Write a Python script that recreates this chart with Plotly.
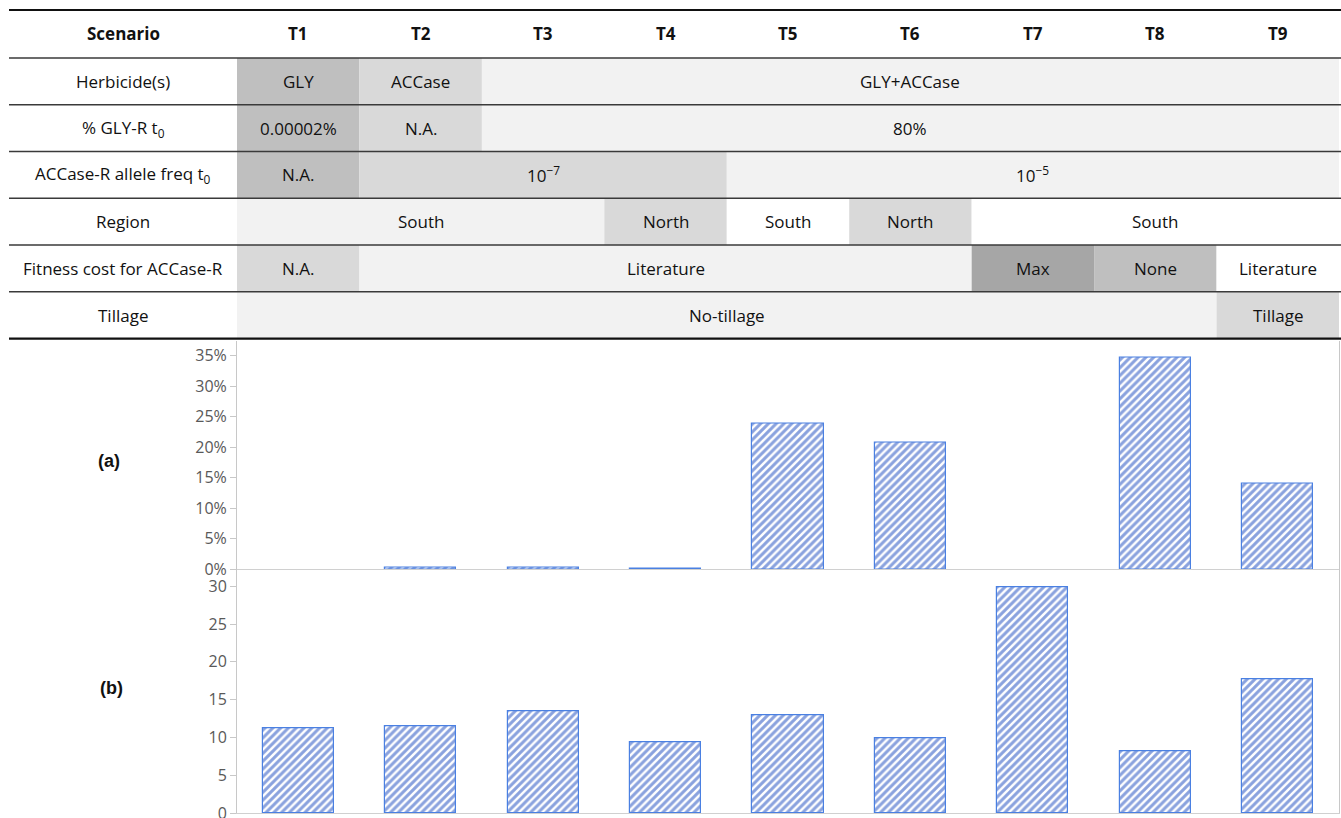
import plotly.graph_objects as go

W = 1341
REF_H = 818          # layout grid used for all vertical positions
FIG_H = 828          # rendered figure height

# ---- data -------------------------------------------------------------
scenarios = ["T1", "T2", "T3", "T4", "T5", "T6", "T7", "T8", "T9"]
panel_a_share = [None, 0.003, 0.003, 0.002, 0.238, 0.208, None, 0.346, 0.141]
panel_b_value = [11.2, 11.5, 13.5, 9.3, 12.9, 9.9, 29.9, 8.1, 17.7]

panel_a_ticks = [0, 0.05, 0.10, 0.15, 0.20, 0.25, 0.30, 0.35]
panel_b_ticks = [0, 5, 10, 15, 20, 25, 30]

row_labels = [
    "Herbicide(s)",
    "% GLY-R t<sub>0</sub>",
    "ACCase-R allele freq t<sub>0</sub>",
    "Region",
    "Fitness cost for ACCase-R",
    "Tillage",
]

# each row: (cell text, number of scenario columns spanned, fill)
table_rows = [
    [("GLY", 1, "#bfbfbf"), ("ACCase", 1, "#d9d9d9"), ("GLY+ACCase", 7, "#f2f2f2")],
    [("0.00002%", 1, "#bfbfbf"), ("N.A.", 1, "#d9d9d9"), ("80%", 7, "#f2f2f2")],
    [("N.A.", 1, "#bfbfbf"), ("10<sup>\u22127</sup>", 3, "#d9d9d9"),
     ("10<sup>\u22125</sup>", 5, "#f2f2f2")],
    [("South", 3, "#f2f2f2"), ("North", 1, "#d9d9d9"), ("South", 1, "#ffffff"),
     ("North", 1, "#d9d9d9"), ("South", 3, "#ffffff")],
    [("N.A.", 1, "#d9d9d9"), ("Literature", 5, "#f2f2f2"), ("Max", 1, "#a6a6a6"),
     ("None", 1, "#bfbfbf"), ("Literature", 1, "#ffffff")],
    [("No-tillage", 8, "#f2f2f2"), ("Tillage", 1, "#d9d9d9")],
]


# ---- position helpers (pixel grid -> paper fraction) ------------------
def px(x):
    return x / W


def py(y):
    return min(1.0, max(0.0, 1 - y / REF_H))


table_left = 9
label_right = 237
plot_right = 1339
col_w = (plot_right - label_right) / len(scenarios)
header_top = 10
header_bottom = 58
table_bottom = 339
row_h = (table_bottom - header_bottom) / len(row_labels)

a_top, a_bottom = 341, 570
a_ppu = (a_bottom - 356) / 0.35          # grid px per unit (fraction)
b_top, b_bottom = 570, 814
b_ppu = (b_bottom - 587) / 30.0

TABLE_FONT = "'Open Sans', sans-serif"
AXIS_FONT = "'Open Sans', sans-serif"
TAG_FONT = "'Liberation Sans', Arial, sans-serif"
BLUE = "#1646bd"
EDGE = "#4a80e2"

shapes = []
annotations = []


def label(x, y, text, size=17, family=TABLE_FONT):
    annotations.append(dict(x=px(x), y=py(y), xref="paper", yref="paper", text=text,
                            showarrow=False, xanchor="center", yanchor="middle",
                            font=dict(family=family, size=size, color="#111")))


# header
hy = (header_top + header_bottom) / 2
label((table_left + label_right) / 2, hy, "<b>Scenario</b>")
for i, s in enumerate(scenarios):
    label(label_right + (i + 0.5) * col_w, hy, f"<b>{s}</b>")

# body rows
for r, (row_name, cells) in enumerate(zip(row_labels, table_rows)):
    y0 = header_bottom + r * row_h
    y1 = y0 + row_h
    ym = (y0 + y1) / 2
    label((table_left + label_right) / 2, ym, row_name)
    c = 0
    for text, span, fill in cells:
        x0 = label_right + c * col_w
        x1 = x0 + span * col_w
        shapes.append(dict(type="rect", xref="paper", yref="paper", x0=px(x0), x1=px(x1),
                           y0=py(y1), y1=py(y0), fillcolor=fill, line=dict(width=0), layer="below"))
        label((x0 + x1) / 2, ym, text)
        c += span

# horizontal rules
for k in range(len(row_labels)):
    yy = header_bottom + k * row_h
    shapes.append(dict(type="line", xref="paper", yref="paper", x0=px(table_left), x1=1,
                       y0=py(yy), y1=py(yy), line=dict(color="#3a3a3a", width=1.4)))
for yy, wdt in [(header_top, 2.2), (table_bottom, 2.4)]:
    shapes.append(dict(type="line", xref="paper", yref="paper", x0=px(table_left), x1=1,
                       y0=py(yy), y1=py(yy), line=dict(color="#111", width=wdt)))

# panel tags
label(109, 462, "<b>(a)</b>", size=18, family=TAG_FONT)
label(111, 689, "<b>(b)</b>", size=18, family=TAG_FONT)

bar_style = dict(
    color="white",
    line=dict(color=EDGE, width=1.2),
    pattern=dict(shape="/", fgcolor=BLUE, bgcolor="white", size=5.5, solidity=0.55),
)

fig = go.Figure()
fig.add_trace(go.Bar(x=scenarios, y=panel_a_share, width=0.58, marker=bar_style,
                     xaxis="x", yaxis="y", showlegend=False, hoverinfo="x+y"))
fig.add_trace(go.Bar(x=scenarios, y=panel_b_value, width=0.58, marker=bar_style,
                     xaxis="x2", yaxis="y2", showlegend=False, hoverinfo="x+y"))

a_max = (a_bottom - a_top) / a_ppu
b_max = (b_bottom - b_top) / b_ppu

common_x = dict(type="category", categoryorder="array", categoryarray=scenarios,
                range=[-0.5, len(scenarios) - 0.5], showticklabels=False, ticks="",
                showgrid=False, zeroline=False, showline=True, linecolor="#d0d0d0", linewidth=1,
                domain=[px(label_right), px(plot_right)], fixedrange=True)
common_y = dict(showgrid=False, zeroline=False, showline=True, linecolor="#c8c8c8", linewidth=1,
                mirror=True, ticks="outside", ticklen=6, tickcolor="#c8c8c8",
                tickfont=dict(family=AXIS_FONT, size=16, color="#595959"), fixedrange=True)

fig.update_layout(
    width=W, height=FIG_H,
    margin=dict(l=0, r=0, t=0, b=0),
    paper_bgcolor="white", plot_bgcolor="white",
    bargap=0,
    xaxis=dict(common_x, anchor="y"),
    xaxis2=dict(common_x, anchor="y2"),
    yaxis=dict(common_y, domain=[py(a_bottom), py(a_top)], range=[0, a_max],
               tickvals=panel_a_ticks, tickformat=".0%", anchor="x"),
    yaxis2=dict(common_y, domain=[py(b_bottom), py(b_top)], range=[0, b_max],
                tickvals=panel_b_ticks, anchor="x2"),
    shapes=shapes,
    annotations=annotations,
)

fig.write_html("out.html")
